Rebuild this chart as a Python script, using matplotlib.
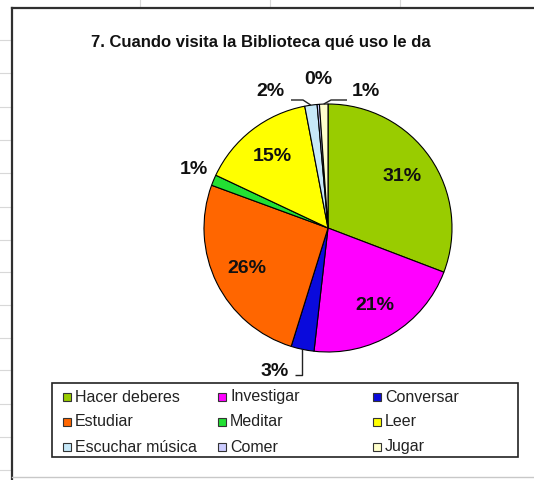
import numpy as np
import matplotlib.pyplot as plt
from matplotlib.patches import Rectangle

# data
labels = ['Hacer deberes', 'Investigar', 'Conversar', 'Estudiar', 'Meditar',
          'Leer', 'Escuchar música', 'Comer', 'Jugar']
values = [30.8, 21.0, 3.0, 25.8, 1.4, 15.0, 1.6, 0.3, 1.1]
colors = ['#99CC00', '#FF00FF', '#0A0ADC', '#FF6600', '#22E033',
          '#FFFF00', '#C6E8F8', '#CCCCFF', '#FFFFCC']
title = '7. Cuando visita la Biblioteca qué uso le da'

W, H = 534, 480
fig = plt.figure(figsize=(W / 100, H / 100), dpi=100)
plt.rcParams['font.family'] = ['Liberation Sans', 'DejaVu Sans']

# overlay axes in pixel coordinates for frame, title and legend
bg = fig.add_axes([0, 0, 1, 1])
bg.set_xlim(0, W)
bg.set_ylim(H, 0)
bg.axis('off')

# faint spreadsheet gridlines outside the chart frame
for gy in [40, 73, 107, 140, 173, 207, 240, 272, 305, 338, 370, 404, 437, 470]:
    bg.plot([0, 12], [gy, gy], color='#d8d8d8', lw=0.8)
for gx in [140, 270, 400]:
    bg.plot([gx, gx], [0, 8], color='#d8d8d8', lw=0.8)
bg.plot([12, 12], [8, H], color='#303030', lw=1.6)
bg.plot([12, W], [8, 8], color='#303030', lw=1.6)
bg.plot([12, W], [477, 477], color='#c8c8c8', lw=1.0)

bg.text(261, 42, title, ha='center', va='center', fontsize=12,
        fontweight='bold', color='#111111')

# pie axes: center (328, 228) px, radius 124 px
cx, cy, r = 328, 228, 124
half = 150
ax = fig.add_axes([(cx - half) / W, (H - cy - half) / H, 2 * half / W, 2 * half / H])
total = sum(values)


def fmt(p):
    return '%.0f%%' % p if p >= 5 else ''


wedges, texts, autotexts = ax.pie(
    values, colors=colors, startangle=90, counterclock=False,
    autopct=fmt, pctdistance=0.73,
    wedgeprops=dict(edgecolor='black', linewidth=0.8),
    textprops=dict(fontsize=14, fontweight='bold', color='#111111'))
lim = half / r
ax.set_xlim(-lim, lim)
ax.set_ylim(-lim, lim)
ax.set_aspect('equal')


def edge_point(i):
    w = wedges[i]
    a = np.deg2rad((w.theta1 + w.theta2) / 2)
    return np.cos(a), np.sin(a)


def px(x, y):
    return (x - cx) / r, (cy - y) / r


lab_kw = dict(fontsize=14, fontweight='bold', color='#111111', ha='center', va='center')
line_kw = dict(color='#222222', lw=1.0, solid_capstyle='butt')
pct = [round(v / total * 100) for v in values]

# Conversar: label below with L-shaped leader
ex, ey = edge_point(2)
y_el = px(0, 375)[1]
ax.plot([ex, ex, px(295, 0)[0]], [ey, y_el, y_el], **line_kw)
ax.text(*px(275, 371), '%d%%' % pct[2], **lab_kw)
# Meditar
ax.text(*px(194, 170), '%d%%' % pct[4], **lab_kw)
# Escuchar música
ex, ey = edge_point(6)
y_el = px(0, 100)[1]
ax.plot([ex, px(303, 0)[0], px(291, 0)[0]], [ey, y_el, y_el], **line_kw)
ax.text(*px(270, 92), '%d%%' % pct[6], **lab_kw)
# Comer
ax.text(*px(318, 80), '%d%%' % pct[7], **lab_kw)
# Jugar
ex, ey = edge_point(8)
ax.plot([ex, px(331, 0)[0], px(347, 0)[0]], [ey, y_el, y_el], **line_kw)
ax.text(*px(366, 92), '%d%%' % pct[8], **lab_kw)

# legend box drawn by hand, row-major in three equal columns
bg.add_patch(Rectangle((52, 383), 466, 74, facecolor='white',
                       edgecolor='#222222', lw=1.2))
col_x = [67, 222, 377]
row_y = [397, 422, 447]
for i, (lab, col) in enumerate(zip(labels, colors)):
    x0 = col_x[i % 3]
    y0 = row_y[i // 3]
    bg.add_patch(Rectangle((x0 - 4, y0 - 4), 8, 8, facecolor=col,
                           edgecolor='#333333', lw=0.8))
    bg.text(x0 + 8, y0, lab, fontsize=11.5, va='center', ha='left',
            color='#222222')

fig.savefig('out.png', dpi=100)
